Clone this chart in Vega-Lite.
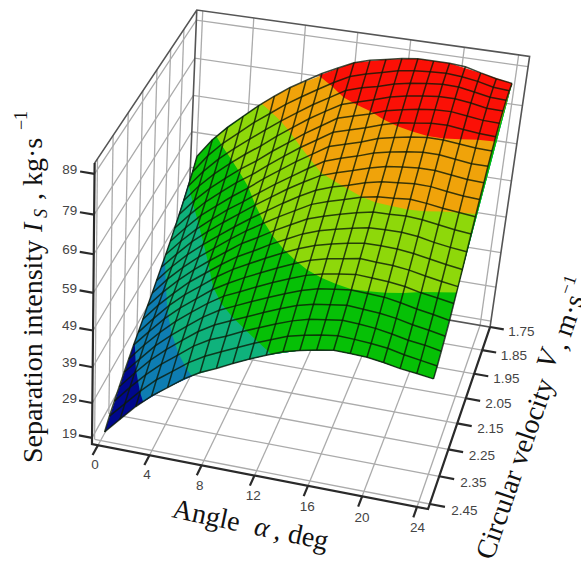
{"$schema":"https://vega.github.io/schema/vega-lite/v6.json","width":581,"height":564,"padding":0,"autosize":{"type":"none"},"background":"white","config":{"view":{"stroke":null}},
"data":{"values":[
{"g":"m","a":0.5,"V":2.468,"I":21.4},{"g":"m","a":0.5,"V":2.435,"I":23.5},{"g":"m","a":0.5,"V":2.401,"I":25.3},{"g":"m","a":0.5,"V":2.368,"I":27},{"g":"m","a":0.5,"V":2.334,"I":28.7},{"g":"m","a":0.5,"V":2.301,"I":30.2},{"g":"m","a":0.5,"V":2.268,"I":31.8},{"g":"m","a":0.5,"V":2.234,"I":33.1},{"g":"m","a":0.5,"V":2.201,"I":34.6},{"g":"m","a":0.5,"V":2.167,"I":36.1},{"g":"m","a":0.5,"V":2.134,"I":37.5},{"g":"m","a":0.5,"V":2.101,"I":39},{"g":"m","a":0.5,"V":2.067,"I":40.5},{"g":"m","a":0.5,"V":2.034,"I":42},{"g":"m","a":0.5,"V":2.0,"I":43.6},{"g":"m","a":0.5,"V":1.967,"I":45.3},{"g":"m","a":0.5,"V":1.934,"I":47.1},{"g":"m","a":0.5,"V":1.9,"I":49},{"g":"m","a":0.5,"V":1.867,"I":51},{"g":"m","a":0.5,"V":1.833,"I":53.1},{"g":"m","a":0.5,"V":1.8,"I":55.5},
{"g":"m","a":1.675,"V":2.468,"I":25.9},{"g":"m","a":1.675,"V":2.435,"I":27.9},{"g":"m","a":1.675,"V":2.401,"I":30},{"g":"m","a":1.675,"V":2.368,"I":31.7},{"g":"m","a":1.675,"V":2.334,"I":33.2},{"g":"m","a":1.675,"V":2.301,"I":34.9},{"g":"m","a":1.675,"V":2.268,"I":36.4},{"g":"m","a":1.675,"V":2.234,"I":37.8},{"g":"m","a":1.675,"V":2.201,"I":39.3},{"g":"m","a":1.675,"V":2.167,"I":40.7},{"g":"m","a":1.675,"V":2.134,"I":42.2},{"g":"m","a":1.675,"V":2.101,"I":43.6},{"g":"m","a":1.675,"V":2.067,"I":44.9},{"g":"m","a":1.675,"V":2.034,"I":46.5},{"g":"m","a":1.675,"V":2.0,"I":48.1},{"g":"m","a":1.675,"V":1.967,"I":49.8},{"g":"m","a":1.675,"V":1.934,"I":51.7},{"g":"m","a":1.675,"V":1.9,"I":53.7},{"g":"m","a":1.675,"V":1.867,"I":55.8},{"g":"m","a":1.675,"V":1.833,"I":58.2},{"g":"m","a":1.675,"V":1.8,"I":60.7},
{"g":"m","a":2.85,"V":2.468,"I":30.3},{"g":"m","a":2.85,"V":2.435,"I":32.3},{"g":"m","a":2.85,"V":2.401,"I":34.3},{"g":"m","a":2.85,"V":2.368,"I":36.1},{"g":"m","a":2.85,"V":2.334,"I":37.7},{"g":"m","a":2.85,"V":2.301,"I":39.2},{"g":"m","a":2.85,"V":2.268,"I":40.8},{"g":"m","a":2.85,"V":2.234,"I":42.2},{"g":"m","a":2.85,"V":2.201,"I":43.4},{"g":"m","a":2.85,"V":2.167,"I":44.8},{"g":"m","a":2.85,"V":2.134,"I":46.2},{"g":"m","a":2.85,"V":2.101,"I":47.6},{"g":"m","a":2.85,"V":2.067,"I":49.1},{"g":"m","a":2.85,"V":2.034,"I":50.5},{"g":"m","a":2.85,"V":2.0,"I":52.2},{"g":"m","a":2.85,"V":1.967,"I":53.9},{"g":"m","a":2.85,"V":1.934,"I":55.7},{"g":"m","a":2.85,"V":1.9,"I":57.7},{"g":"m","a":2.85,"V":1.867,"I":59.9},{"g":"m","a":2.85,"V":1.833,"I":62.3},{"g":"m","a":2.85,"V":1.8,"I":64.8},
{"g":"m","a":4.025,"V":2.468,"I":34.1},{"g":"m","a":4.025,"V":2.435,"I":36.2},{"g":"m","a":4.025,"V":2.401,"I":38.1},{"g":"m","a":4.025,"V":2.368,"I":39.8},{"g":"m","a":4.025,"V":2.334,"I":41.4},{"g":"m","a":4.025,"V":2.301,"I":43},{"g":"m","a":4.025,"V":2.268,"I":44.5},{"g":"m","a":4.025,"V":2.234,"I":45.9},{"g":"m","a":4.025,"V":2.201,"I":47.2},{"g":"m","a":4.025,"V":2.167,"I":48.4},{"g":"m","a":4.025,"V":2.134,"I":49.7},{"g":"m","a":4.025,"V":2.101,"I":51.1},{"g":"m","a":4.025,"V":2.067,"I":52.5},{"g":"m","a":4.025,"V":2.034,"I":53.9},{"g":"m","a":4.025,"V":2.0,"I":55.5},{"g":"m","a":4.025,"V":1.967,"I":57.3},{"g":"m","a":4.025,"V":1.934,"I":59.1},{"g":"m","a":4.025,"V":1.9,"I":61.1},{"g":"m","a":4.025,"V":1.867,"I":63.3},{"g":"m","a":4.025,"V":1.833,"I":65.7},{"g":"m","a":4.025,"V":1.8,"I":68.3},
{"g":"m","a":5.2,"V":2.468,"I":37.2},{"g":"m","a":5.2,"V":2.435,"I":39.3},{"g":"m","a":5.2,"V":2.401,"I":41.3},{"g":"m","a":5.2,"V":2.368,"I":43.1},{"g":"m","a":5.2,"V":2.334,"I":44.7},{"g":"m","a":5.2,"V":2.301,"I":46.3},{"g":"m","a":5.2,"V":2.268,"I":47.7},{"g":"m","a":5.2,"V":2.234,"I":49},{"g":"m","a":5.2,"V":2.201,"I":50.3},{"g":"m","a":5.2,"V":2.167,"I":51.6},{"g":"m","a":5.2,"V":2.134,"I":52.9},{"g":"m","a":5.2,"V":2.101,"I":54.2},{"g":"m","a":5.2,"V":2.067,"I":55.7},{"g":"m","a":5.2,"V":2.034,"I":57.2},{"g":"m","a":5.2,"V":2.0,"I":58.7},{"g":"m","a":5.2,"V":1.967,"I":60.5},{"g":"m","a":5.2,"V":1.934,"I":62.3},{"g":"m","a":5.2,"V":1.9,"I":64.3},{"g":"m","a":5.2,"V":1.867,"I":66.5},{"g":"m","a":5.2,"V":1.833,"I":69.1},{"g":"m","a":5.2,"V":1.8,"I":71.8},
{"g":"m","a":6.375,"V":2.468,"I":40.4},{"g":"m","a":6.375,"V":2.435,"I":42.5},{"g":"m","a":6.375,"V":2.401,"I":44.6},{"g":"m","a":6.375,"V":2.368,"I":46.3},{"g":"m","a":6.375,"V":2.334,"I":47.9},{"g":"m","a":6.375,"V":2.301,"I":49.4},{"g":"m","a":6.375,"V":2.268,"I":50.9},{"g":"m","a":6.375,"V":2.234,"I":52.2},{"g":"m","a":6.375,"V":2.201,"I":53.4},{"g":"m","a":6.375,"V":2.167,"I":54.6},{"g":"m","a":6.375,"V":2.134,"I":56},{"g":"m","a":6.375,"V":2.101,"I":57.3},{"g":"m","a":6.375,"V":2.067,"I":58.7},{"g":"m","a":6.375,"V":2.034,"I":60},{"g":"m","a":6.375,"V":2.0,"I":61.6},{"g":"m","a":6.375,"V":1.967,"I":63.3},{"g":"m","a":6.375,"V":1.934,"I":65.1},{"g":"m","a":6.375,"V":1.9,"I":67.2},{"g":"m","a":6.375,"V":1.867,"I":69.6},{"g":"m","a":6.375,"V":1.833,"I":72.1},{"g":"m","a":6.375,"V":1.8,"I":74.9},
{"g":"m","a":7.55,"V":2.468,"I":42.9},{"g":"m","a":7.55,"V":2.435,"I":45},{"g":"m","a":7.55,"V":2.401,"I":47.1},{"g":"m","a":7.55,"V":2.368,"I":48.8},{"g":"m","a":7.55,"V":2.334,"I":50.5},{"g":"m","a":7.55,"V":2.301,"I":52.1},{"g":"m","a":7.55,"V":2.268,"I":53.4},{"g":"m","a":7.55,"V":2.234,"I":54.9},{"g":"m","a":7.55,"V":2.201,"I":56.2},{"g":"m","a":7.55,"V":2.167,"I":57.6},{"g":"m","a":7.55,"V":2.134,"I":58.9},{"g":"m","a":7.55,"V":2.101,"I":60.2},{"g":"m","a":7.55,"V":2.067,"I":61.7},{"g":"m","a":7.55,"V":2.034,"I":63.1},{"g":"m","a":7.55,"V":2.0,"I":64.8},{"g":"m","a":7.55,"V":1.967,"I":66.5},{"g":"m","a":7.55,"V":1.934,"I":68.3},{"g":"m","a":7.55,"V":1.9,"I":70.4},{"g":"m","a":7.55,"V":1.867,"I":72.6},{"g":"m","a":7.55,"V":1.833,"I":75.1},{"g":"m","a":7.55,"V":1.8,"I":77.8},
{"g":"m","a":8.725,"V":2.468,"I":44.8},{"g":"m","a":8.725,"V":2.435,"I":47},{"g":"m","a":8.725,"V":2.401,"I":48.8},{"g":"m","a":8.725,"V":2.368,"I":50.7},{"g":"m","a":8.725,"V":2.334,"I":52.4},{"g":"m","a":8.725,"V":2.301,"I":54},{"g":"m","a":8.725,"V":2.268,"I":55.6},{"g":"m","a":8.725,"V":2.234,"I":57.1},{"g":"m","a":8.725,"V":2.201,"I":58.4},{"g":"m","a":8.725,"V":2.167,"I":59.9},{"g":"m","a":8.725,"V":2.134,"I":61.5},{"g":"m","a":8.725,"V":2.101,"I":62.9},{"g":"m","a":8.725,"V":2.067,"I":64.5},{"g":"m","a":8.725,"V":2.034,"I":66},{"g":"m","a":8.725,"V":2.0,"I":67.7},{"g":"m","a":8.725,"V":1.967,"I":69.5},{"g":"m","a":8.725,"V":1.934,"I":71.2},{"g":"m","a":8.725,"V":1.9,"I":73.3},{"g":"m","a":8.725,"V":1.867,"I":75.4},{"g":"m","a":8.725,"V":1.833,"I":77.7},{"g":"m","a":8.725,"V":1.8,"I":80.2},
{"g":"m","a":9.9,"V":2.468,"I":46.9},{"g":"m","a":9.9,"V":2.435,"I":48.9},{"g":"m","a":9.9,"V":2.401,"I":50.8},{"g":"m","a":9.9,"V":2.368,"I":52.5},{"g":"m","a":9.9,"V":2.334,"I":54.3},{"g":"m","a":9.9,"V":2.301,"I":56},{"g":"m","a":9.9,"V":2.268,"I":57.6},{"g":"m","a":9.9,"V":2.234,"I":59.3},{"g":"m","a":9.9,"V":2.201,"I":60.8},{"g":"m","a":9.9,"V":2.167,"I":62.4},{"g":"m","a":9.9,"V":2.134,"I":64},{"g":"m","a":9.9,"V":2.101,"I":65.6},{"g":"m","a":9.9,"V":2.067,"I":67.3},{"g":"m","a":9.9,"V":2.034,"I":68.7},{"g":"m","a":9.9,"V":2.0,"I":70.6},{"g":"m","a":9.9,"V":1.967,"I":72.4},{"g":"m","a":9.9,"V":1.934,"I":74.2},{"g":"m","a":9.9,"V":1.9,"I":76.2},{"g":"m","a":9.9,"V":1.867,"I":78.1},{"g":"m","a":9.9,"V":1.833,"I":80.2},{"g":"m","a":9.9,"V":1.8,"I":82.6},
{"g":"m","a":11.075,"V":2.468,"I":48.9},{"g":"m","a":11.075,"V":2.435,"I":50.8},{"g":"m","a":11.075,"V":2.401,"I":52.6},{"g":"m","a":11.075,"V":2.368,"I":54.4},{"g":"m","a":11.075,"V":2.334,"I":56.1},{"g":"m","a":11.075,"V":2.301,"I":57.9},{"g":"m","a":11.075,"V":2.268,"I":59.6},{"g":"m","a":11.075,"V":2.234,"I":61.3},{"g":"m","a":11.075,"V":2.201,"I":62.9},{"g":"m","a":11.075,"V":2.167,"I":64.6},{"g":"m","a":11.075,"V":2.134,"I":66.3},{"g":"m","a":11.075,"V":2.101,"I":68.1},{"g":"m","a":11.075,"V":2.067,"I":69.8},{"g":"m","a":11.075,"V":2.034,"I":71.4},{"g":"m","a":11.075,"V":2.0,"I":73.2},{"g":"m","a":11.075,"V":1.967,"I":75},{"g":"m","a":11.075,"V":1.934,"I":76.8},{"g":"m","a":11.075,"V":1.9,"I":78.7},{"g":"m","a":11.075,"V":1.867,"I":80.5},{"g":"m","a":11.075,"V":1.833,"I":82.6},{"g":"m","a":11.075,"V":1.8,"I":84.6},
{"g":"m","a":12.25,"V":2.468,"I":50.7},{"g":"m","a":12.25,"V":2.435,"I":52.5},{"g":"m","a":12.25,"V":2.401,"I":54.3},{"g":"m","a":12.25,"V":2.368,"I":56.1},{"g":"m","a":12.25,"V":2.334,"I":57.8},{"g":"m","a":12.25,"V":2.301,"I":59.6},{"g":"m","a":12.25,"V":2.268,"I":61.4},{"g":"m","a":12.25,"V":2.234,"I":63.2},{"g":"m","a":12.25,"V":2.201,"I":65},{"g":"m","a":12.25,"V":2.167,"I":66.8},{"g":"m","a":12.25,"V":2.134,"I":68.6},{"g":"m","a":12.25,"V":2.101,"I":70.3},{"g":"m","a":12.25,"V":2.067,"I":72.1},{"g":"m","a":12.25,"V":2.034,"I":73.9},{"g":"m","a":12.25,"V":2.0,"I":75.8},{"g":"m","a":12.25,"V":1.967,"I":77.6},{"g":"m","a":12.25,"V":1.934,"I":79.4},{"g":"m","a":12.25,"V":1.9,"I":81.1},{"g":"m","a":12.25,"V":1.867,"I":82.9},{"g":"m","a":12.25,"V":1.833,"I":84.7},{"g":"m","a":12.25,"V":1.8,"I":86.5},
{"g":"m","a":13.425,"V":2.468,"I":52.4},{"g":"m","a":13.425,"V":2.435,"I":54.2},{"g":"m","a":13.425,"V":2.401,"I":55.9},{"g":"m","a":13.425,"V":2.368,"I":57.7},{"g":"m","a":13.425,"V":2.334,"I":59.4},{"g":"m","a":13.425,"V":2.301,"I":61.2},{"g":"m","a":13.425,"V":2.268,"I":63},{"g":"m","a":13.425,"V":2.234,"I":64.7},{"g":"m","a":13.425,"V":2.201,"I":66.5},{"g":"m","a":13.425,"V":2.167,"I":68.2},{"g":"m","a":13.425,"V":2.134,"I":70},{"g":"m","a":13.425,"V":2.101,"I":71.8},{"g":"m","a":13.425,"V":2.067,"I":73.5},{"g":"m","a":13.425,"V":2.034,"I":75.3},{"g":"m","a":13.425,"V":2.0,"I":77},{"g":"m","a":13.425,"V":1.967,"I":78.8},{"g":"m","a":13.425,"V":1.934,"I":80.6},{"g":"m","a":13.425,"V":1.9,"I":82.3},{"g":"m","a":13.425,"V":1.867,"I":84.2},{"g":"m","a":13.425,"V":1.833,"I":85.9},{"g":"m","a":13.425,"V":1.8,"I":87.7},
{"g":"m","a":14.6,"V":2.468,"I":53.5},{"g":"m","a":14.6,"V":2.435,"I":55.2},{"g":"m","a":14.6,"V":2.401,"I":57.1},{"g":"m","a":14.6,"V":2.368,"I":58.8},{"g":"m","a":14.6,"V":2.334,"I":60.6},{"g":"m","a":14.6,"V":2.301,"I":62.3},{"g":"m","a":14.6,"V":2.268,"I":64.1},{"g":"m","a":14.6,"V":2.234,"I":65.8},{"g":"m","a":14.6,"V":2.201,"I":67.6},{"g":"m","a":14.6,"V":2.167,"I":69.4},{"g":"m","a":14.6,"V":2.134,"I":71.2},{"g":"m","a":14.6,"V":2.101,"I":72.9},{"g":"m","a":14.6,"V":2.067,"I":74.7},{"g":"m","a":14.6,"V":2.034,"I":76.5},{"g":"m","a":14.6,"V":2.0,"I":78.2},{"g":"m","a":14.6,"V":1.967,"I":80},{"g":"m","a":14.6,"V":1.934,"I":81.7},{"g":"m","a":14.6,"V":1.9,"I":83.5},{"g":"m","a":14.6,"V":1.867,"I":85.1},{"g":"m","a":14.6,"V":1.833,"I":86.9},{"g":"m","a":14.6,"V":1.8,"I":88.5},
{"g":"m","a":15.775,"V":2.468,"I":54.4},{"g":"m","a":15.775,"V":2.435,"I":56},{"g":"m","a":15.775,"V":2.401,"I":57.7},{"g":"m","a":15.775,"V":2.368,"I":59.4},{"g":"m","a":15.775,"V":2.334,"I":61.2},{"g":"m","a":15.775,"V":2.301,"I":63},{"g":"m","a":15.775,"V":2.268,"I":64.8},{"g":"m","a":15.775,"V":2.234,"I":66.7},{"g":"m","a":15.775,"V":2.201,"I":68.5},{"g":"m","a":15.775,"V":2.167,"I":70.4},{"g":"m","a":15.775,"V":2.134,"I":72.4},{"g":"m","a":15.775,"V":2.101,"I":74.2},{"g":"m","a":15.775,"V":2.067,"I":76},{"g":"m","a":15.775,"V":2.034,"I":77.9},{"g":"m","a":15.775,"V":2.0,"I":79.7},{"g":"m","a":15.775,"V":1.967,"I":81.4},{"g":"m","a":15.775,"V":1.934,"I":83.1},{"g":"m","a":15.775,"V":1.9,"I":84.8},{"g":"m","a":15.775,"V":1.867,"I":86.3},{"g":"m","a":15.775,"V":1.833,"I":87.9},{"g":"m","a":15.775,"V":1.8,"I":89.3},
{"g":"m","a":16.95,"V":2.468,"I":55.1},{"g":"m","a":16.95,"V":2.435,"I":56.6},{"g":"m","a":16.95,"V":2.401,"I":58.3},{"g":"m","a":16.95,"V":2.368,"I":60},{"g":"m","a":16.95,"V":2.334,"I":61.7},{"g":"m","a":16.95,"V":2.301,"I":63.6},{"g":"m","a":16.95,"V":2.268,"I":65.6},{"g":"m","a":16.95,"V":2.234,"I":67.4},{"g":"m","a":16.95,"V":2.201,"I":69.3},{"g":"m","a":16.95,"V":2.167,"I":71.3},{"g":"m","a":16.95,"V":2.134,"I":73.2},{"g":"m","a":16.95,"V":2.101,"I":75.1},{"g":"m","a":16.95,"V":2.067,"I":77},{"g":"m","a":16.95,"V":2.034,"I":78.8},{"g":"m","a":16.95,"V":2.0,"I":80.6},{"g":"m","a":16.95,"V":1.967,"I":82.5},{"g":"m","a":16.95,"V":1.934,"I":84},{"g":"m","a":16.95,"V":1.9,"I":85.6},{"g":"m","a":16.95,"V":1.867,"I":87.1},{"g":"m","a":16.95,"V":1.833,"I":88.5},{"g":"m","a":16.95,"V":1.8,"I":89.8},
{"g":"m","a":18.125,"V":2.468,"I":55},{"g":"m","a":18.125,"V":2.435,"I":56.4},{"g":"m","a":18.125,"V":2.401,"I":58.1},{"g":"m","a":18.125,"V":2.368,"I":59.7},{"g":"m","a":18.125,"V":2.334,"I":61.5},{"g":"m","a":18.125,"V":2.301,"I":63.4},{"g":"m","a":18.125,"V":2.268,"I":65.3},{"g":"m","a":18.125,"V":2.234,"I":67.4},{"g":"m","a":18.125,"V":2.201,"I":69.5},{"g":"m","a":18.125,"V":2.167,"I":71.4},{"g":"m","a":18.125,"V":2.134,"I":73.5},{"g":"m","a":18.125,"V":2.101,"I":75.5},{"g":"m","a":18.125,"V":2.067,"I":77.5},{"g":"m","a":18.125,"V":2.034,"I":79.5},{"g":"m","a":18.125,"V":2.0,"I":81.3},{"g":"m","a":18.125,"V":1.967,"I":83},{"g":"m","a":18.125,"V":1.934,"I":84.7},{"g":"m","a":18.125,"V":1.9,"I":86.2},{"g":"m","a":18.125,"V":1.867,"I":87.6},{"g":"m","a":18.125,"V":1.833,"I":88.8},{"g":"m","a":18.125,"V":1.8,"I":89.8},
{"g":"m","a":19.3,"V":2.468,"I":54.8},{"g":"m","a":19.3,"V":2.435,"I":56.1},{"g":"m","a":19.3,"V":2.401,"I":57.7},{"g":"m","a":19.3,"V":2.368,"I":59.4},{"g":"m","a":19.3,"V":2.334,"I":61.3},{"g":"m","a":19.3,"V":2.301,"I":63.1},{"g":"m","a":19.3,"V":2.268,"I":65.2},{"g":"m","a":19.3,"V":2.234,"I":67.3},{"g":"m","a":19.3,"V":2.201,"I":69.5},{"g":"m","a":19.3,"V":2.167,"I":71.6},{"g":"m","a":19.3,"V":2.134,"I":73.9},{"g":"m","a":19.3,"V":2.101,"I":75.9},{"g":"m","a":19.3,"V":2.067,"I":77.9},{"g":"m","a":19.3,"V":2.034,"I":80},{"g":"m","a":19.3,"V":2.0,"I":81.8},{"g":"m","a":19.3,"V":1.967,"I":83.6},{"g":"m","a":19.3,"V":1.934,"I":85.2},{"g":"m","a":19.3,"V":1.9,"I":86.7},{"g":"m","a":19.3,"V":1.867,"I":88},{"g":"m","a":19.3,"V":1.833,"I":89},{"g":"m","a":19.3,"V":1.8,"I":89.8},
{"g":"m","a":20.475,"V":2.468,"I":54.2},{"g":"m","a":20.475,"V":2.435,"I":55.6},{"g":"m","a":20.475,"V":2.401,"I":57},{"g":"m","a":20.475,"V":2.368,"I":58.8},{"g":"m","a":20.475,"V":2.334,"I":60.6},{"g":"m","a":20.475,"V":2.301,"I":62.6},{"g":"m","a":20.475,"V":2.268,"I":64.7},{"g":"m","a":20.475,"V":2.234,"I":66.8},{"g":"m","a":20.475,"V":2.201,"I":69.1},{"g":"m","a":20.475,"V":2.167,"I":71.3},{"g":"m","a":20.475,"V":2.134,"I":73.5},{"g":"m","a":20.475,"V":2.101,"I":75.8},{"g":"m","a":20.475,"V":2.067,"I":77.9},{"g":"m","a":20.475,"V":2.034,"I":80},{"g":"m","a":20.475,"V":2.0,"I":81.8},{"g":"m","a":20.475,"V":1.967,"I":83.7},{"g":"m","a":20.475,"V":1.934,"I":85.3},{"g":"m","a":20.475,"V":1.9,"I":86.7},{"g":"m","a":20.475,"V":1.867,"I":87.9},{"g":"m","a":20.475,"V":1.833,"I":88.7},{"g":"m","a":20.475,"V":1.8,"I":89.5},
{"g":"m","a":21.65,"V":2.468,"I":53.4},{"g":"m","a":21.65,"V":2.435,"I":54.7},{"g":"m","a":21.65,"V":2.401,"I":56.1},{"g":"m","a":21.65,"V":2.368,"I":57.9},{"g":"m","a":21.65,"V":2.334,"I":59.7},{"g":"m","a":21.65,"V":2.301,"I":61.7},{"g":"m","a":21.65,"V":2.268,"I":63.9},{"g":"m","a":21.65,"V":2.234,"I":66.1},{"g":"m","a":21.65,"V":2.201,"I":68.3},{"g":"m","a":21.65,"V":2.167,"I":70.7},{"g":"m","a":21.65,"V":2.134,"I":72.9},{"g":"m","a":21.65,"V":2.101,"I":75.2},{"g":"m","a":21.65,"V":2.067,"I":77.4},{"g":"m","a":21.65,"V":2.034,"I":79.5},{"g":"m","a":21.65,"V":2.0,"I":81.4},{"g":"m","a":21.65,"V":1.967,"I":83.2},{"g":"m","a":21.65,"V":1.934,"I":84.8},{"g":"m","a":21.65,"V":1.9,"I":86.2},{"g":"m","a":21.65,"V":1.867,"I":87.2},{"g":"m","a":21.65,"V":1.833,"I":88.1},{"g":"m","a":21.65,"V":1.8,"I":88.5},
{"g":"m","a":22.825,"V":2.468,"I":52.9},{"g":"m","a":22.825,"V":2.435,"I":54},{"g":"m","a":22.825,"V":2.401,"I":55.6},{"g":"m","a":22.825,"V":2.368,"I":57.2},{"g":"m","a":22.825,"V":2.334,"I":59},{"g":"m","a":22.825,"V":2.301,"I":61.1},{"g":"m","a":22.825,"V":2.268,"I":63.2},{"g":"m","a":22.825,"V":2.234,"I":65.4},{"g":"m","a":22.825,"V":2.201,"I":67.7},{"g":"m","a":22.825,"V":2.167,"I":70.1},{"g":"m","a":22.825,"V":2.134,"I":72.5},{"g":"m","a":22.825,"V":2.101,"I":74.7},{"g":"m","a":22.825,"V":2.067,"I":76.9},{"g":"m","a":22.825,"V":2.034,"I":79},{"g":"m","a":22.825,"V":2.0,"I":81},{"g":"m","a":22.825,"V":1.967,"I":82.8},{"g":"m","a":22.825,"V":1.934,"I":84.3},{"g":"m","a":22.825,"V":1.9,"I":85.5},{"g":"m","a":22.825,"V":1.867,"I":86.5},{"g":"m","a":22.825,"V":1.833,"I":87.2},{"g":"m","a":22.825,"V":1.8,"I":87.6},
{"g":"m","a":24,"V":2.468,"I":52.3},{"g":"m","a":24,"V":2.435,"I":53.3},{"g":"m","a":24,"V":2.401,"I":54.8},{"g":"m","a":24,"V":2.368,"I":56.4},{"g":"m","a":24,"V":2.334,"I":58.2},{"g":"m","a":24,"V":2.301,"I":60.4},{"g":"m","a":24,"V":2.268,"I":62.6},{"g":"m","a":24,"V":2.234,"I":64.8},{"g":"m","a":24,"V":2.201,"I":67.3},{"g":"m","a":24,"V":2.167,"I":69.7},{"g":"m","a":24,"V":2.134,"I":72.1},{"g":"m","a":24,"V":2.101,"I":74.5},{"g":"m","a":24,"V":2.067,"I":76.7},{"g":"m","a":24,"V":2.034,"I":79},{"g":"m","a":24,"V":2.0,"I":80.9},{"g":"m","a":24,"V":1.967,"I":82.6},{"g":"m","a":24,"V":1.934,"I":84.2},{"g":"m","a":24,"V":1.9,"I":85.4},{"g":"m","a":24,"V":1.867,"I":86.3},{"g":"m","a":24,"V":1.833,"I":86.9},{"g":"m","a":24,"V":1.8,"I":87},

{"g":"b0","o":1,"a":0.5,"V":2.468,"I":21.4},{"g":"b0","o":2,"a":2.85,"V":2.468,"I":30.3},{"g":"b0","o":3,"a":5.2,"V":2.468,"I":37.2},{"g":"b0","o":4,"a":7.55,"V":2.468,"I":42.9},{"g":"b0","o":5,"a":9.9,"V":2.468,"I":46.9},{"g":"b0","o":6,"a":12.25,"V":2.468,"I":50.7},{"g":"b0","o":7,"a":14.6,"V":2.468,"I":53.5},{"g":"b0","o":8,"a":16.95,"V":2.468,"I":55.1},{"g":"b0","o":9,"a":19.3,"V":2.468,"I":54.8},{"g":"b0","o":10,"a":21.65,"V":2.468,"I":53.4},{"g":"b0","o":11,"a":24,"V":2.468,"I":52.3},{"g":"b0","o":12,"a":24,"V":2.268,"I":62.6},{"g":"b0","o":13,"a":24,"V":2.0,"I":80.9},{"g":"b0","o":14,"a":24,"V":1.8,"I":87},{"g":"b0","o":15,"a":12.25,"V":1.8,"I":86.5},{"g":"b0","o":16,"a":5.2,"V":1.8,"I":71.8},{"g":"b0","o":17,"a":2.85,"V":1.8,"I":64.8},{"g":"b0","o":18,"a":1.675,"V":1.8,"I":60.7},{"g":"b0","o":19,"a":0.5,"V":1.8,"I":55.5},{"g":"b0","o":20,"a":0.5,"V":2.0,"I":43.6},{"g":"b0","o":21,"a":0.5,"V":2.268,"I":31.8},

{"g":"b1","o":1,"a":3.4,"V":2.468,"I":32},{"g":"b1","o":2,"a":5.2,"V":2.468,"I":37.2},{"g":"b1","o":3,"a":7.55,"V":2.468,"I":42.9},{"g":"b1","o":4,"a":9.9,"V":2.468,"I":46.9},{"g":"b1","o":5,"a":12.25,"V":2.468,"I":50.7},{"g":"b1","o":6,"a":14.6,"V":2.468,"I":53.5},{"g":"b1","o":7,"a":16.95,"V":2.468,"I":55.1},{"g":"b1","o":8,"a":19.3,"V":2.468,"I":54.8},{"g":"b1","o":9,"a":24,"V":2.468,"I":52.3},{"g":"b1","o":10,"a":24,"V":2.268,"I":62.6},{"g":"b1","o":11,"a":24,"V":1.8,"I":87},{"g":"b1","o":12,"a":12.25,"V":1.8,"I":86.5},{"g":"b1","o":13,"a":5.2,"V":1.8,"I":71.8},{"g":"b1","o":14,"a":2.85,"V":1.8,"I":64.8},{"g":"b1","o":15,"a":1.675,"V":1.8,"I":60.7},{"g":"b1","o":16,"a":0.5,"V":1.8,"I":55.5},{"g":"b1","o":17,"a":0.5,"V":1.867,"I":51},{"g":"b1","o":18,"a":0.5,"V":2.0,"I":43.6},{"g":"b1","o":19,"a":0.5,"V":2.134,"I":37.5},{"g":"b1","o":20,"a":0.5,"V":2.259,"I":32},{"g":"b1","o":21,"a":1.675,"V":2.359,"I":32},{"g":"b1","o":22,"a":2.85,"V":2.438,"I":32},

{"g":"b2","o":1,"a":6.96,"V":2.468,"I":41.6},{"g":"b2","o":2,"a":9.9,"V":2.468,"I":46.9},{"g":"b2","o":3,"a":12.25,"V":2.468,"I":50.7},{"g":"b2","o":4,"a":14.6,"V":2.468,"I":53.5},{"g":"b2","o":5,"a":16.95,"V":2.468,"I":55.1},{"g":"b2","o":6,"a":19.3,"V":2.468,"I":54.8},{"g":"b2","o":7,"a":24,"V":2.468,"I":52.3},{"g":"b2","o":8,"a":24,"V":2.268,"I":62.6},{"g":"b2","o":9,"a":24,"V":1.8,"I":87},{"g":"b2","o":10,"a":12.25,"V":1.8,"I":86.5},{"g":"b2","o":11,"a":5.2,"V":1.8,"I":71.8},{"g":"b2","o":12,"a":2.85,"V":1.8,"I":64.8},{"g":"b2","o":13,"a":1.675,"V":1.8,"I":60.7},{"g":"b2","o":14,"a":0.5,"V":1.8,"I":55.5},{"g":"b2","o":15,"a":0.5,"V":1.867,"I":51},{"g":"b2","o":16,"a":0.5,"V":1.934,"I":47.1},{"g":"b2","o":17,"a":0.5,"V":2.04,"I":41.6},{"g":"b2","o":18,"a":1.675,"V":2.146,"I":41.6},{"g":"b2","o":19,"a":2.85,"V":2.248,"I":41.6},{"g":"b2","o":20,"a":4.025,"V":2.329,"I":41.6},{"g":"b2","o":21,"a":5.2,"V":2.395,"I":41.6},{"g":"b2","o":22,"a":6.375,"V":2.448,"I":41.6},

{"g":"b3","o":1,"a":12.6,"V":2.468,"I":51.2},{"g":"b3","o":2,"a":14.6,"V":2.468,"I":53.5},{"g":"b3","o":3,"a":16.95,"V":2.468,"I":55.1},{"g":"b3","o":4,"a":19.3,"V":2.468,"I":54.8},{"g":"b3","o":5,"a":21.65,"V":2.468,"I":53.4},{"g":"b3","o":6,"a":24,"V":2.468,"I":52.3},{"g":"b3","o":7,"a":24,"V":2.268,"I":62.6},{"g":"b3","o":8,"a":24,"V":1.8,"I":87},{"g":"b3","o":9,"a":12.25,"V":1.8,"I":86.5},{"g":"b3","o":10,"a":5.2,"V":1.8,"I":71.8},{"g":"b3","o":11,"a":2.85,"V":1.8,"I":64.8},{"g":"b3","o":12,"a":1.675,"V":1.8,"I":60.7},{"g":"b3","o":13,"a":0.5,"V":1.8,"I":55.5},{"g":"b3","o":14,"a":0.5,"V":1.863,"I":51.2},{"g":"b3","o":15,"a":1.675,"V":1.944,"I":51.2},{"g":"b3","o":16,"a":2.85,"V":2.019,"I":51.2},{"g":"b3","o":17,"a":4.025,"V":2.097,"I":51.2},{"g":"b3","o":18,"a":5.2,"V":2.177,"I":51.2},{"g":"b3","o":19,"a":6.375,"V":2.261,"I":51.2},{"g":"b3","o":20,"a":7.55,"V":2.318,"I":51.2},{"g":"b3","o":21,"a":8.725,"V":2.358,"I":51.2},{"g":"b3","o":22,"a":9.9,"V":2.393,"I":51.2},{"g":"b3","o":23,"a":11.075,"V":2.426,"I":51.2},{"g":"b3","o":24,"a":12.25,"V":2.458,"I":51.2},

{"g":"b4","o":1,"a":24,"V":2.279,"I":61.8},{"g":"b4","o":2,"a":24,"V":2.134,"I":72.1},{"g":"b4","o":3,"a":24,"V":2.0,"I":80.9},{"g":"b4","o":4,"a":24,"V":1.8,"I":87},{"g":"b4","o":5,"a":12.25,"V":1.8,"I":86.5},{"g":"b4","o":6,"a":5.2,"V":1.8,"I":71.8},{"g":"b4","o":7,"a":2.0,"V":1.8,"I":61.8},{"g":"b4","o":8,"a":2.85,"V":1.84,"I":61.8},{"g":"b4","o":9,"a":4.025,"V":1.89,"I":61.8},{"g":"b4","o":10,"a":5.2,"V":1.942,"I":61.8},{"g":"b4","o":11,"a":6.375,"V":1.997,"I":61.8},{"g":"b4","o":12,"a":7.55,"V":2.066,"I":61.8},{"g":"b4","o":13,"a":8.725,"V":2.127,"I":61.8},{"g":"b4","o":14,"a":9.9,"V":2.179,"I":61.8},{"g":"b4","o":15,"a":11.075,"V":2.223,"I":61.8},{"g":"b4","o":16,"a":12.25,"V":2.259,"I":61.8},{"g":"b4","o":17,"a":13.425,"V":2.289,"I":61.8},{"g":"b4","o":18,"a":14.6,"V":2.309,"I":61.8},{"g":"b4","o":19,"a":15.775,"V":2.323,"I":61.8},{"g":"b4","o":20,"a":16.95,"V":2.333,"I":61.8},{"g":"b4","o":21,"a":18.125,"V":2.329,"I":61.8},{"g":"b4","o":22,"a":19.3,"V":2.324,"I":61.8},{"g":"b4","o":23,"a":20.475,"V":2.314,"I":61.8},{"g":"b4","o":24,"a":21.65,"V":2.299,"I":61.8},{"g":"b4","o":25,"a":22.825,"V":2.289,"I":61.8},

{"g":"b5","o":1,"a":24,"V":2.129,"I":72.5},{"g":"b5","o":2,"a":24,"V":2.0,"I":80.9},{"g":"b5","o":3,"a":24,"V":1.8,"I":87},{"g":"b5","o":4,"a":12.25,"V":1.8,"I":86.5},{"g":"b5","o":5,"a":7.55,"V":1.8,"I":77.8},{"g":"b5","o":6,"a":5.4,"V":1.8,"I":72.5},{"g":"b5","o":7,"a":6.375,"V":1.83,"I":72.5},{"g":"b5","o":8,"a":7.55,"V":1.868,"I":72.5},{"g":"b5","o":9,"a":8.725,"V":1.914,"I":72.5},{"g":"b5","o":10,"a":9.9,"V":1.965,"I":72.5},{"g":"b5","o":11,"a":11.075,"V":2.014,"I":72.5},{"g":"b5","o":12,"a":12.25,"V":2.061,"I":72.5},{"g":"b5","o":13,"a":13.425,"V":2.087,"I":72.5},{"g":"b5","o":14,"a":14.6,"V":2.109,"I":72.5},{"g":"b5","o":15,"a":15.775,"V":2.132,"I":72.5},{"g":"b5","o":16,"a":16.95,"V":2.147,"I":72.5},{"g":"b5","o":17,"a":18.125,"V":2.151,"I":72.5},{"g":"b5","o":18,"a":19.3,"V":2.154,"I":72.5},{"g":"b5","o":19,"a":20.475,"V":2.151,"I":72.5},{"g":"b5","o":20,"a":21.65,"V":2.141,"I":72.5},{"g":"b5","o":21,"a":22.825,"V":2.134,"I":72.5},

{"g":"b6","o":1,"a":24,"V":1.977,"I":82},{"g":"b6","o":2,"a":24,"V":1.934,"I":84.2},{"g":"b6","o":3,"a":24,"V":1.867,"I":86.3},{"g":"b6","o":4,"a":24,"V":1.8,"I":87},{"g":"b6","o":5,"a":21.65,"V":1.8,"I":88.5},{"g":"b6","o":6,"a":19.3,"V":1.8,"I":89.8},{"g":"b6","o":7,"a":16.95,"V":1.8,"I":89.8},{"g":"b6","o":8,"a":14.6,"V":1.8,"I":88.5},{"g":"b6","o":9,"a":12.25,"V":1.8,"I":86.5},{"g":"b6","o":10,"a":9.67,"V":1.8,"I":82},{"g":"b6","o":11,"a":11.075,"V":1.843,"I":82},{"g":"b6","o":12,"a":12.25,"V":1.883,"I":82},{"g":"b6","o":13,"a":13.425,"V":1.907,"I":82},{"g":"b6","o":14,"a":14.6,"V":1.927,"I":82},{"g":"b6","o":15,"a":15.775,"V":1.954,"I":82},{"g":"b6","o":16,"a":16.95,"V":1.974,"I":82},{"g":"b6","o":17,"a":18.125,"V":1.987,"I":82},{"g":"b6","o":18,"a":19.3,"V":1.997,"I":82},{"g":"b6","o":19,"a":20.475,"V":1.997,"I":82},{"g":"b6","o":20,"a":21.65,"V":1.989,"I":82},{"g":"b6","o":21,"a":22.825,"V":1.98,"I":82},

{"g":"grid","l":"fa0","a":0,"V":2.468,"I":17.2},{"g":"grid","l":"fa0","a":0,"V":1.75,"I":17.2},{"g":"grid","l":"fa4","a":4,"V":2.468,"I":17.2},{"g":"grid","l":"fa4","a":4,"V":1.75,"I":17.2},{"g":"grid","l":"fa8","a":8,"V":2.468,"I":17.2},{"g":"grid","l":"fa8","a":8,"V":1.75,"I":17.2},{"g":"grid","l":"fa12","a":12,"V":2.468,"I":17.2},{"g":"grid","l":"fa12","a":12,"V":1.75,"I":17.2},{"g":"grid","l":"fa16","a":16,"V":2.468,"I":17.2},{"g":"grid","l":"fa16","a":16,"V":1.75,"I":17.2},{"g":"grid","l":"fa20","a":20,"V":2.468,"I":17.2},{"g":"grid","l":"fa20","a":20,"V":1.75,"I":17.2},{"g":"grid","l":"fa24","a":24,"V":2.468,"I":17.2},{"g":"grid","l":"fa24","a":24,"V":1.75,"I":17.2},
{"g":"grid","l":"fv185","a":-0.47,"V":1.85,"I":17.2},{"g":"grid","l":"fv185","a":24.8,"V":1.85,"I":17.2},{"g":"grid","l":"fv195","a":-0.47,"V":1.95,"I":17.2},{"g":"grid","l":"fv195","a":24.8,"V":1.95,"I":17.2},{"g":"grid","l":"fv205","a":-0.47,"V":2.05,"I":17.2},{"g":"grid","l":"fv205","a":24.8,"V":2.05,"I":17.2},{"g":"grid","l":"fv215","a":-0.47,"V":2.15,"I":17.2},{"g":"grid","l":"fv215","a":24.8,"V":2.15,"I":17.2},{"g":"grid","l":"fv225","a":-0.47,"V":2.25,"I":17.2},{"g":"grid","l":"fv225","a":24.8,"V":2.25,"I":17.2},{"g":"grid","l":"fv235","a":-0.47,"V":2.35,"I":17.2},{"g":"grid","l":"fv235","a":24.8,"V":2.35,"I":17.2},{"g":"grid","l":"fv245","a":-0.47,"V":2.45,"I":17.2},{"g":"grid","l":"fv245","a":24.8,"V":2.45,"I":17.2},
{"g":"grid","l":"ba0","a":0,"V":1.75,"I":17.2},{"g":"grid","l":"ba0","a":0,"V":1.75,"I":91.6},{"g":"grid","l":"ba4","a":4,"V":1.75,"I":17.2},{"g":"grid","l":"ba4","a":4,"V":1.75,"I":91.6},{"g":"grid","l":"ba8","a":8,"V":1.75,"I":17.2},{"g":"grid","l":"ba8","a":8,"V":1.75,"I":91.6},{"g":"grid","l":"ba12","a":12,"V":1.75,"I":17.2},{"g":"grid","l":"ba12","a":12,"V":1.75,"I":91.6},{"g":"grid","l":"ba16","a":16,"V":1.75,"I":17.2},{"g":"grid","l":"ba16","a":16,"V":1.75,"I":91.6},{"g":"grid","l":"ba20","a":20,"V":1.75,"I":17.2},{"g":"grid","l":"ba20","a":20,"V":1.75,"I":91.6},{"g":"grid","l":"ba24","a":24,"V":1.75,"I":17.2},{"g":"grid","l":"ba24","a":24,"V":1.75,"I":91.6},
{"g":"grid","l":"i19","o":1,"a":24.8,"V":1.75,"I":19},{"g":"grid","l":"i19","o":2,"a":-0.47,"V":1.75,"I":19},{"g":"grid","l":"i19","o":3,"a":-0.47,"V":2.468,"I":19},{"g":"grid","l":"i29","o":1,"a":24.8,"V":1.75,"I":29},{"g":"grid","l":"i29","o":2,"a":-0.47,"V":1.75,"I":29},{"g":"grid","l":"i29","o":3,"a":-0.47,"V":2.468,"I":29},{"g":"grid","l":"i39","o":1,"a":24.8,"V":1.75,"I":39},{"g":"grid","l":"i39","o":2,"a":-0.47,"V":1.75,"I":39},{"g":"grid","l":"i39","o":3,"a":-0.47,"V":2.468,"I":39},{"g":"grid","l":"i49","o":1,"a":24.8,"V":1.75,"I":49},{"g":"grid","l":"i49","o":2,"a":-0.47,"V":1.75,"I":49},{"g":"grid","l":"i49","o":3,"a":-0.47,"V":2.468,"I":49},{"g":"grid","l":"i59","o":1,"a":24.8,"V":1.75,"I":59},{"g":"grid","l":"i59","o":2,"a":-0.47,"V":1.75,"I":59},{"g":"grid","l":"i59","o":3,"a":-0.47,"V":2.468,"I":59},{"g":"grid","l":"i69","o":1,"a":24.8,"V":1.75,"I":69},{"g":"grid","l":"i69","o":2,"a":-0.47,"V":1.75,"I":69},{"g":"grid","l":"i69","o":3,"a":-0.47,"V":2.468,"I":69},{"g":"grid","l":"i79","o":1,"a":24.8,"V":1.75,"I":79},{"g":"grid","l":"i79","o":2,"a":-0.47,"V":1.75,"I":79},{"g":"grid","l":"i79","o":3,"a":-0.47,"V":2.468,"I":79},{"g":"grid","l":"i89","o":1,"a":24.8,"V":1.75,"I":89},{"g":"grid","l":"i89","o":2,"a":-0.47,"V":1.75,"I":89},{"g":"grid","l":"i89","o":3,"a":-0.47,"V":2.468,"I":89},
{"g":"grid","l":"lv185","a":-0.47,"V":1.85,"I":17.2},{"g":"grid","l":"lv185","a":-0.47,"V":1.85,"I":91.6},{"g":"grid","l":"lv195","a":-0.47,"V":1.95,"I":17.2},{"g":"grid","l":"lv195","a":-0.47,"V":1.95,"I":91.6},{"g":"grid","l":"lv205","a":-0.47,"V":2.05,"I":17.2},{"g":"grid","l":"lv205","a":-0.47,"V":2.05,"I":91.6},{"g":"grid","l":"lv215","a":-0.47,"V":2.15,"I":17.2},{"g":"grid","l":"lv215","a":-0.47,"V":2.15,"I":91.6},{"g":"grid","l":"lv225","a":-0.47,"V":2.25,"I":17.2},{"g":"grid","l":"lv225","a":-0.47,"V":2.25,"I":91.6},{"g":"grid","l":"lv235","a":-0.47,"V":2.35,"I":17.2},{"g":"grid","l":"lv235","a":-0.47,"V":2.35,"I":91.6},{"g":"grid","l":"lv245","a":-0.47,"V":2.45,"I":17.2},{"g":"grid","l":"lv245","a":-0.47,"V":2.45,"I":91.6},

{"g":"box","l":"top","o":1,"a":-0.47,"V":2.468,"I":91.6},{"g":"box","l":"top","o":2,"a":-0.47,"V":1.75,"I":91.6},{"g":"box","l":"top","o":3,"a":24.8,"V":1.75,"I":91.6},{"g":"box","l":"top","o":4,"a":24.8,"V":1.75,"I":17.2},{"g":"box","l":"top","o":5,"a":-0.47,"V":1.75,"I":17.2},{"g":"box","l":"top","o":6,"a":-0.47,"V":1.75,"I":91.6},
{"g":"ax","l":"floor","o":1,"a":-0.47,"V":2.468,"I":91.6},{"g":"ax","l":"floor","o":2,"a":-0.47,"V":2.468,"I":17.2},{"g":"ax","l":"floor","o":3,"a":24.8,"V":2.468,"I":17.2},{"g":"ax","l":"floor","o":4,"a":24.8,"V":1.75,"I":17.2},
{"g":"ax","l":"ta0","o":1,"a":0,"V":2.468,"I":17.2},{"g":"ax","l":"ta0","o":2,"a":0,"V":2.505,"I":17.2},{"g":"ax","l":"ta4","o":1,"a":4,"V":2.468,"I":17.2},{"g":"ax","l":"ta4","o":2,"a":4,"V":2.505,"I":17.2},{"g":"ax","l":"ta8","o":1,"a":8,"V":2.468,"I":17.2},{"g":"ax","l":"ta8","o":2,"a":8,"V":2.505,"I":17.2},{"g":"ax","l":"ta12","o":1,"a":12,"V":2.468,"I":17.2},{"g":"ax","l":"ta12","o":2,"a":12,"V":2.505,"I":17.2},{"g":"ax","l":"ta16","o":1,"a":16,"V":2.468,"I":17.2},{"g":"ax","l":"ta16","o":2,"a":16,"V":2.505,"I":17.2},{"g":"ax","l":"ta20","o":1,"a":20,"V":2.468,"I":17.2},{"g":"ax","l":"ta20","o":2,"a":20,"V":2.505,"I":17.2},{"g":"ax","l":"ta24","o":1,"a":24,"V":2.468,"I":17.2},{"g":"ax","l":"ta24","o":2,"a":24,"V":2.505,"I":17.2},
{"g":"ax","l":"tv175","o":1,"a":24.8,"V":1.75,"I":17.2},{"g":"ax","l":"tv175","o":2,"a":25.9,"V":1.75,"I":17.2},{"g":"ax","l":"tv185","o":1,"a":24.8,"V":1.85,"I":17.2},{"g":"ax","l":"tv185","o":2,"a":25.9,"V":1.85,"I":17.2},{"g":"ax","l":"tv195","o":1,"a":24.8,"V":1.95,"I":17.2},{"g":"ax","l":"tv195","o":2,"a":25.9,"V":1.95,"I":17.2},{"g":"ax","l":"tv205","o":1,"a":24.8,"V":2.05,"I":17.2},{"g":"ax","l":"tv205","o":2,"a":25.9,"V":2.05,"I":17.2},{"g":"ax","l":"tv215","o":1,"a":24.8,"V":2.15,"I":17.2},{"g":"ax","l":"tv215","o":2,"a":25.9,"V":2.15,"I":17.2},{"g":"ax","l":"tv225","o":1,"a":24.8,"V":2.25,"I":17.2},{"g":"ax","l":"tv225","o":2,"a":25.9,"V":2.25,"I":17.2},{"g":"ax","l":"tv235","o":1,"a":24.8,"V":2.35,"I":17.2},{"g":"ax","l":"tv235","o":2,"a":25.9,"V":2.35,"I":17.2},{"g":"ax","l":"tv245","o":1,"a":24.8,"V":2.45,"I":17.2},{"g":"ax","l":"tv245","o":2,"a":25.9,"V":2.45,"I":17.2},
{"g":"ax","l":"ti19","o":1,"a":-0.47,"V":2.468,"I":19},{"g":"ax","l":"ti19","o":2,"a":-1.5,"V":2.468,"I":19},{"g":"ax","l":"ti29","o":1,"a":-0.47,"V":2.468,"I":29},{"g":"ax","l":"ti29","o":2,"a":-1.5,"V":2.468,"I":29},{"g":"ax","l":"ti39","o":1,"a":-0.47,"V":2.468,"I":39},{"g":"ax","l":"ti39","o":2,"a":-1.5,"V":2.468,"I":39},{"g":"ax","l":"ti49","o":1,"a":-0.47,"V":2.468,"I":49},{"g":"ax","l":"ti49","o":2,"a":-1.5,"V":2.468,"I":49},{"g":"ax","l":"ti59","o":1,"a":-0.47,"V":2.468,"I":59},{"g":"ax","l":"ti59","o":2,"a":-1.5,"V":2.468,"I":59},{"g":"ax","l":"ti69","o":1,"a":-0.47,"V":2.468,"I":69},{"g":"ax","l":"ti69","o":2,"a":-1.5,"V":2.468,"I":69},{"g":"ax","l":"ti79","o":1,"a":-0.47,"V":2.468,"I":79},{"g":"ax","l":"ti79","o":2,"a":-1.5,"V":2.468,"I":79},{"g":"ax","l":"ti89","o":1,"a":-0.47,"V":2.468,"I":89},{"g":"ax","l":"ti89","o":2,"a":-1.5,"V":2.468,"I":89},

{"g":"la","t":"0","a":0,"V":2.543,"I":17.2},{"g":"la","t":"4","a":4,"V":2.543,"I":17.2},{"g":"la","t":"8","a":8,"V":2.543,"I":17.2},{"g":"la","t":"12","a":12,"V":2.543,"I":17.2},{"g":"la","t":"16","a":16,"V":2.543,"I":17.2},{"g":"la","t":"20","a":20,"V":2.543,"I":17.2},{"g":"la","t":"24","a":24,"V":2.543,"I":17.2},
{"g":"lb","t":"1.75","a":27.3,"V":1.75,"I":17.2},{"g":"lb","t":"1.85","a":27.3,"V":1.85,"I":17.2},{"g":"lb","t":"1.95","a":27.3,"V":1.95,"I":17.2},{"g":"lb","t":"2.05","a":27.3,"V":2.05,"I":17.2},{"g":"lb","t":"2.15","a":27.3,"V":2.15,"I":17.2},{"g":"lb","t":"2.25","a":27.3,"V":2.25,"I":17.2},{"g":"lb","t":"2.35","a":27.3,"V":2.35,"I":17.2},{"g":"lb","t":"2.45","a":27.3,"V":2.45,"I":17.2},
{"g":"lb","t":"19","a":-2.24,"V":2.468,"I":19},{"g":"lb","t":"29","a":-2.24,"V":2.468,"I":29},{"g":"lb","t":"39","a":-2.24,"V":2.468,"I":39},{"g":"lb","t":"49","a":-2.24,"V":2.468,"I":49},{"g":"lb","t":"59","a":-2.24,"V":2.468,"I":59},{"g":"lb","t":"69","a":-2.24,"V":2.468,"I":69},{"g":"lb","t":"79","a":-2.24,"V":2.468,"I":79},{"g":"lb","t":"89","a":-2.24,"V":2.468,"I":89},

{"g":"ttl","k":"s1","t":"Separation intensity","a":-0.47,"V":2.468,"I":17.2},{"g":"ttl","k":"s2","t":"I","a":-0.47,"V":2.468,"I":17.2},{"g":"ttl","k":"s3","t":"S","a":-0.47,"V":2.468,"I":17.2},{"g":"ttl","k":"s4","t":", kg·s","a":-0.47,"V":2.468,"I":17.2},{"g":"ttl","k":"s5","t":"−1","a":-0.47,"V":2.468,"I":17.2},
{"g":"ttl","k":"a1","t":"Angle","a":-0.47,"V":2.468,"I":17.2},{"g":"ttl","k":"a2","t":"α","a":-0.47,"V":2.468,"I":17.2},{"g":"ttl","k":"a3","t":", deg","a":-0.47,"V":2.468,"I":17.2},
{"g":"ttl","k":"c1","t":"Circular velocity","a":-0.47,"V":2.468,"I":17.2},{"g":"ttl","k":"c2","t":"V","a":-0.47,"V":2.468,"I":17.2},{"g":"ttl","k":"c3","t":", m·s","a":-0.47,"V":2.468,"I":17.2},{"g":"ttl","k":"c4","t":"−1","a":-0.47,"V":2.468,"I":17.2}
]},
"transform":[
{"calculate":"0.0186+0.03958*datum.a","as":"u"},
{"calculate":"3.4376-1.393*datum.V","as":"v"},
{"calculate":"(datum.I-17.2)/74.4","as":"w"},
{"calculate":"1-0.03908*datum.u+0.11323*datum.v-0.09157*datum.w","as":"d"},
{"calculate":"(92+319.27*datum.u+115.06*datum.v-6*datum.w)/datum.d","as":"sx"},
{"calculate":"(444+45.11*datum.u-137.86*datum.v-295.9*datum.w)/datum.d","as":"sy"}
],
"encoding":{
"x":{"field":"sx","type":"quantitative","axis":null,"scale":{"domain":[0,581],"nice":false,"zero":false}},
"y":{"field":"sy","type":"quantitative","axis":null,"scale":{"domain":[0,564],"nice":false,"zero":false,"reverse":true}}
},
"layer":[
{"transform":[{"filter":"datum.g=='grid'"}],"mark":{"type":"line","stroke":"#ababab","strokeWidth":1.3,"clip":false},"encoding":{"detail":{"field":"l"},"order":{"field":"o"}}},
{"transform":[{"filter":"datum.g=='box'"}],"mark":{"type":"line","stroke":"#555555","strokeWidth":1.6},"encoding":{"detail":{"field":"l"},"order":{"field":"o"}}},
{"transform":[{"filter":"indexof(['b0','b1','b2','b3','b4','b5','b6'],datum.g)>=0"}],"mark":{"type":"line","filled":true,"strokeWidth":0},"encoding":{"color":{"field":"g","type":"nominal","legend":null,"scale":{"domain":["b0","b1","b2","b3","b4","b5","b6"],"range":["#00088c","#0e7db2","#0fb27c","#06c006","#8ed80a","#f0a30a","#fb1006"]}},"order":{"field":"o"}}},
{"transform":[{"filter":"datum.g=='m'"}],"mark":{"type":"line","stroke":"#0c1a08","strokeOpacity":0.8,"strokeWidth":1.5},"encoding":{"detail":{"field":"a"},"order":{"field":"V"}}},
{"transform":[{"filter":"datum.g=='m'"}],"mark":{"type":"line","stroke":"#0c1a08","strokeOpacity":0.8,"strokeWidth":1.5},"encoding":{"detail":{"field":"V"},"order":{"field":"a"}}},
{"transform":[{"filter":"datum.g=='ax'"}],"mark":{"type":"line","stroke":"#2a2a2a","strokeWidth":2.2},"encoding":{"detail":{"field":"l"},"order":{"field":"o"}}},
{"transform":[{"filter":"datum.g=='la'"}],"mark":{"type":"text","font":"Liberation Sans","fontSize":13.5,"fill":"#444444","dx":8,"align":"center","baseline":"middle"},"encoding":{"text":{"field":"t"}}},
{"transform":[{"filter":"datum.g=='lb'"}],"mark":{"type":"text","font":"Liberation Sans","fontSize":13.5,"fill":"#444444","align":"center","baseline":"middle"},"encoding":{"text":{"field":"t"}}},
{"transform":[{"filter":"datum.k=='s1'"}],"mark":{"type":"text","font":"Liberation Serif","fontSize":28,"angle":270,"align":"left","baseline":"alphabetic","fill":"#111111","dx":-19,"dy":-50},"encoding":{"text":{"field":"t"}}},
{"transform":[{"filter":"datum.k=='s2'"}],"mark":{"type":"text","font":"Liberation Serif","fontStyle":"italic","fontSize":28,"angle":270,"align":"left","baseline":"alphabetic","fill":"#111111","dx":212,"dy":-50},"encoding":{"text":{"field":"t"}}},
{"transform":[{"filter":"datum.k=='s3'"}],"mark":{"type":"text","font":"Liberation Serif","fontStyle":"italic","fontSize":18,"angle":270,"align":"left","baseline":"alphabetic","fill":"#111111","dx":226,"dy":-45},"encoding":{"text":{"field":"t"}}},
{"transform":[{"filter":"datum.k=='s4'"}],"mark":{"type":"text","font":"Liberation Serif","fontSize":28,"angle":270,"align":"left","baseline":"alphabetic","fill":"#111111","dx":244,"dy":-50},"encoding":{"text":{"field":"t"}}},
{"transform":[{"filter":"datum.k=='s5'"}],"mark":{"type":"text","font":"Liberation Serif","fontSize":18,"angle":270,"align":"left","baseline":"alphabetic","fill":"#111111","dx":314,"dy":-65},"encoding":{"text":{"field":"t"}}},
{"transform":[{"filter":"datum.k=='a1'"}],"mark":{"type":"text","font":"Liberation Serif","fontSize":28,"angle":12,"align":"left","baseline":"alphabetic","fill":"#111111","dx":92.5,"dy":55},"encoding":{"text":{"field":"t"}}},
{"transform":[{"filter":"datum.k=='a2'"}],"mark":{"type":"text","font":"Liberation Serif","fontStyle":"italic","fontSize":28,"angle":12,"align":"left","baseline":"alphabetic","fill":"#111111","dx":176.4,"dy":55},"encoding":{"text":{"field":"t"}}},
{"transform":[{"filter":"datum.k=='a3'"}],"mark":{"type":"text","font":"Liberation Serif","fontSize":28,"angle":12,"align":"left","baseline":"alphabetic","fill":"#111111","dx":196.8,"dy":55},"encoding":{"text":{"field":"t"}}},
{"transform":[{"filter":"datum.k=='c1'"}],"mark":{"type":"text","font":"Liberation Serif","fontSize":28,"angle":289,"align":"left","baseline":"alphabetic","fill":"#111111","dx":20,"dy":417},"encoding":{"text":{"field":"t"}}},
{"transform":[{"filter":"datum.k=='c2'"}],"mark":{"type":"text","font":"Liberation Serif","fontStyle":"italic","fontSize":28,"angle":289,"align":"left","baseline":"alphabetic","fill":"#111111","dx":220,"dy":412},"encoding":{"text":{"field":"t"}}},
{"transform":[{"filter":"datum.k=='c3'"}],"mark":{"type":"text","font":"Liberation Serif","fontSize":28,"angle":289,"align":"left","baseline":"alphabetic","fill":"#111111","dx":242,"dy":418},"encoding":{"text":{"field":"t"}}},
{"transform":[{"filter":"datum.k=='c4'"}],"mark":{"type":"text","font":"Liberation Serif","fontSize":18,"angle":289,"align":"left","baseline":"alphabetic","fill":"#111111","dx":296,"dy":404},"encoding":{"text":{"field":"t"}}}
]}
